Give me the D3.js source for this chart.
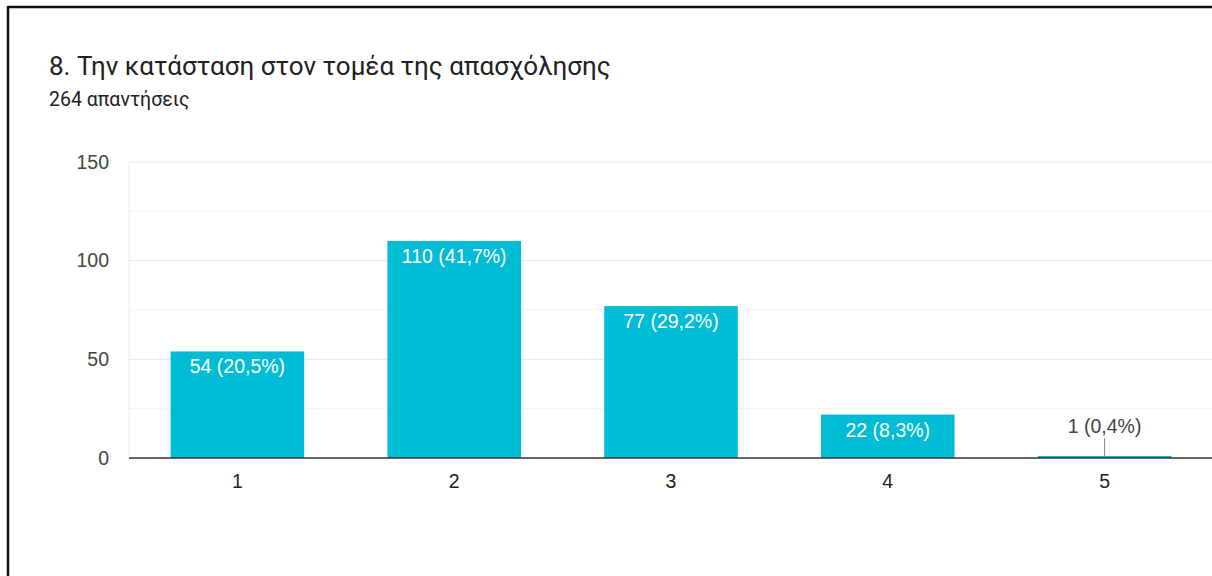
<!DOCTYPE html>
<html>
  <head>
    <meta charset="utf-8" />
    <title>Bar chart</title>
    <script src="https://cdn.jsdelivr.net/npm/d3@7"></script>
    <style>
      html, body { margin: 0; padding: 0; background: #fff; }
    </style>
  </head>
  <body>
    <svg width="1212" height="576" id="mainsvg"></svg>
    <script>
      // data
      const categories = ["1", "2", "3", "4", "5"];
      const values = [54, 110, 77, 22, 1];
      const totalAnswers = 264;
      const yTicks = [0, 50, 100, 150];
      const yMinorTicks = [25, 75, 125];
      const title = "8. Την κατάσταση στον τομέα της απασχόλησης";
      const subtitle = totalAnswers + " απαντήσεις";

      const svg = d3.select("#mainsvg");
      const margin = { left: 129, top: 162, right: -1, bottom: 118 };
      const width = +svg.attr("width");
      const height = +svg.attr("height");

      // frame (top + left edge of the card)
      svg.append("line").attr("x1", 8).attr("x2", width).attr("y1", 7).attr("y2", 7)
        .attr("stroke", "#111").attr("stroke-width", 2.5);
      svg.append("line").attr("x1", 8).attr("x2", 8).attr("y1", 6).attr("y2", height)
        .attr("stroke", "#111").attr("stroke-width", 2.5);

      svg.append("text").attr("x", 49).attr("y", 75)
        .attr("font-family", "Roboto, sans-serif").attr("font-size", 26)
        .attr("fill", "#202124").text(title);
      svg.append("text").attr("x", 49).attr("y", 106)
        .attr("font-family", "Roboto, sans-serif").attr("font-size", 19.5)
        .attr("fill", "#202124").text(subtitle);

      const x = d3.scaleBand()
        .domain(categories)
        .range([margin.left, width - margin.right])
        .paddingInner(0.384)
        .paddingOuter(0.192);

      const y = d3.scaleLinear()
        .domain([0, 150])
        .range([height - margin.bottom, margin.top]);

      const g = svg.append("g");

      // gridlines
      g.selectAll(".minor").data(yMinorTicks).join("line")
        .attr("class", "minor")
        .attr("x1", margin.left).attr("x2", width)
        .attr("y1", d => y(d)).attr("y2", d => y(d))
        .attr("stroke", "#f3f3f3").attr("stroke-width", 1);
      g.selectAll(".major").data(yTicks.filter(d => d > 0)).join("line")
        .attr("class", "major")
        .attr("x1", margin.left).attr("x2", width)
        .attr("y1", d => y(d)).attr("y2", d => y(d))
        .attr("stroke", "#e6e6e6").attr("stroke-width", 1);
      g.append("line")
        .attr("x1", margin.left).attr("x2", margin.left)
        .attr("y1", y(150)).attr("y2", y(0))
        .attr("stroke", "#ebebeb");

      // y labels
      g.selectAll(".ytick").data(yTicks).join("text")
        .attr("class", "ytick")
        .attr("x", margin.left - 20)
        .attr("y", d => y(d))
        .attr("dy", "0.35em")
        .attr("text-anchor", "end")
        .attr("font-family", "Liberation Sans, Arial, sans-serif")
        .attr("font-size", 19.5)
        .attr("fill", "#444")
        .text(d => d);

      // bars
      g.selectAll(".bar").data(values).join("rect")
        .attr("class", "bar")
        .attr("x", (d, i) => x(categories[i]))
        .attr("width", x.bandwidth())
        .attr("y", d => y(d))
        .attr("height", d => y(0) - y(d))
        .attr("fill", "#00bcd4");

      // baseline
      g.append("line")
        .attr("x1", margin.left).attr("x2", width)
        .attr("y1", y(0)).attr("y2", y(0))
        .attr("stroke", "#333").attr("stroke-width", 1.5);

      // x labels
      g.selectAll(".xtick").data(categories).join("text")
        .attr("class", "xtick")
        .attr("x", d => x(d) + x.bandwidth() / 2)
        .attr("y", y(0) + 30)
        .attr("text-anchor", "middle")
        .attr("font-family", "Liberation Sans, Arial, sans-serif")
        .attr("font-size", 19.5)
        .attr("fill", "#222")
        .text(d => d);

      // value labels
      const fmt = v => v + " (" + (v / totalAnswers * 100).toFixed(1).replace(".", ",") + "%)";
      const inside = v => y(0) - y(v) > 28;

      g.selectAll(".vlabel").data(values).join("text")
        .attr("class", "vlabel")
        .attr("x", (d, i) => x(categories[i]) + x.bandwidth() / 2)
        .attr("y", d => inside(d) ? y(d) + 22 : y(0) - 25)
        .attr("text-anchor", "middle")
        .attr("font-family", "Liberation Sans, Arial, sans-serif")
        .attr("font-size", 19.5)
        .attr("fill", d => inside(d) ? "#fff" : "#444")
        .text(fmt);

      // leader line for the small bar
      g.selectAll(".leader").data(values.filter(v => !inside(v))).join("line")
        .attr("class", "leader")
        .attr("x1", d => x(categories[values.indexOf(d)]) + x.bandwidth() / 2)
        .attr("x2", d => x(categories[values.indexOf(d)]) + x.bandwidth() / 2)
        .attr("y1", y(0) - 20)
        .attr("y2", d => y(d))
        .attr("stroke", "#888").attr("stroke-width", 1);
    </script>
  </body>
</html>
